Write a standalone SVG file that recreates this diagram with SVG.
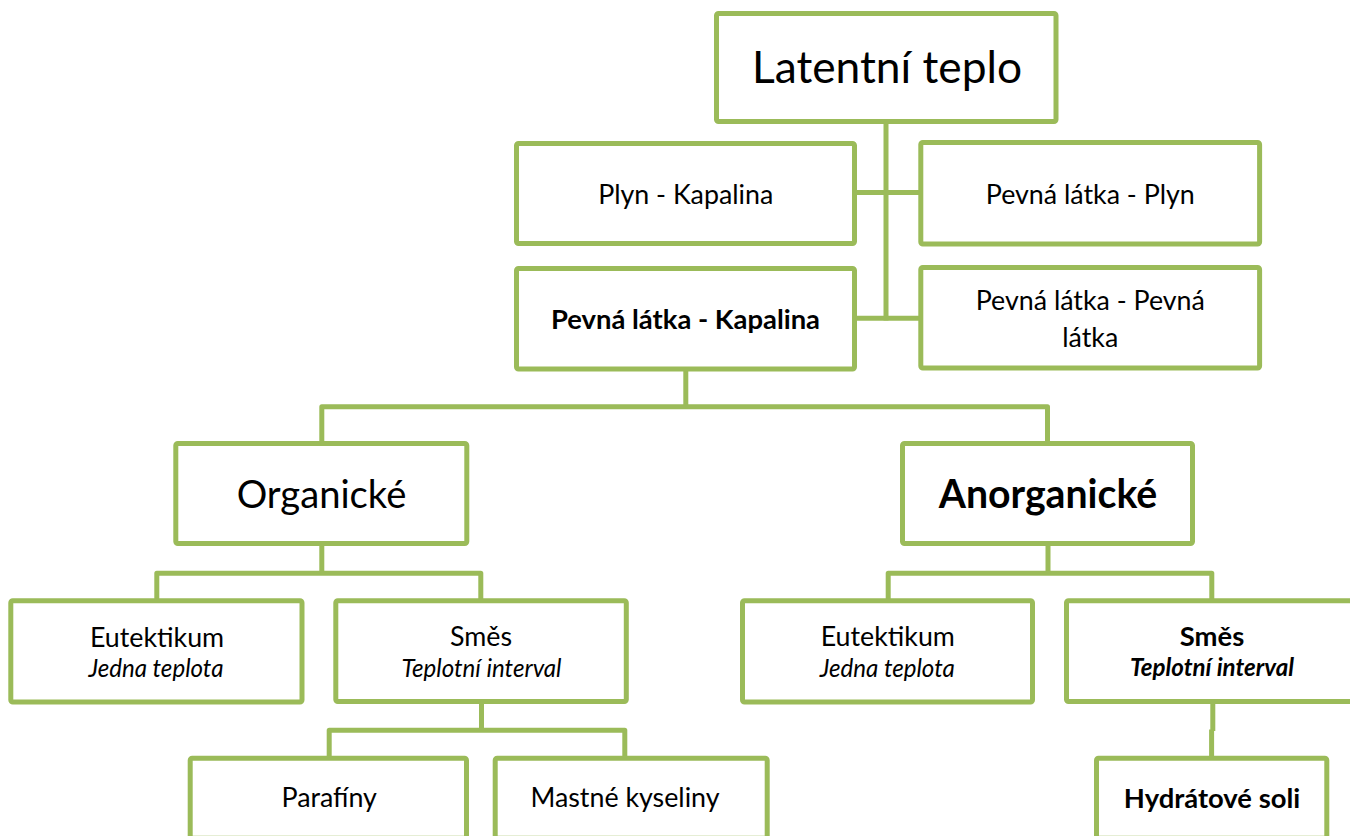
<svg xmlns="http://www.w3.org/2000/svg" width="1350" height="836" viewBox="0 0 1350 836">
  <style>
    .box { fill: #ffffff; stroke: #9BBB59; stroke-width: 5; stroke-linejoin: round; }
    .wire { fill: none; stroke: #9BBB59; stroke-width: 5; stroke-linejoin: round; stroke-linecap: butt; }
    text { font-family: Lato, "Open Sans", "Liberation Sans", sans-serif; fill: #000000; text-anchor: middle; }
    .t22 { font-size: 26.8px; }
    .t22.b { font-size: 27.4px; }
    .t22.i { font-size: 24.1px; }
    .t36 { font-size: 44.3px; }
    .t32 { font-size: 38.2px; }
    .t32.b { font-size: 39.2px; }
    .b { font-weight: bold; }
    .i { font-style: italic; }
  </style>

  <rect width="1350" height="836" fill="#ffffff"/>

  <!-- connectors -->
  <g id="connectors">
    <path class="wire" d="M886,121.5 V320.5"/>
    <path class="wire" d="M854.5,192.5 H920.8"/>
    <path class="wire" d="M854.5,318.2 H920.8"/>
    <path class="wire" d="M685.8,369 V406.8 M321.8,443.5 V406.8 H1047.5 V443.5"/>
    <path class="wire" d="M321.8,543.5 V573.2 M156.8,600.8 V573.2 H480.8 V600.8"/>
    <path class="wire" d="M1048,543.5 V573.2 M888.2,600.8 V573.2 H1211.8 V600.8"/>
    <path class="wire" d="M481.5,701.5 V730.2 M329.2,758.2 V730.2 H624.8 V758.2"/>
    <path class="wire" d="M1212.8,701.5 V731 M1211.6,729.5 V758.2"/>
  </g>

  <!-- nodes -->
  <g id="latentni-teplo">
    <rect class="box" x="716.5" y="13.5" width="339.5" height="108" rx="2"/>
    <text class="t36" x="887" y="83">Latentní teplo</text>
  </g>

  <g id="plyn-kapalina">
    <rect class="box" x="516.5" y="143.5" width="338" height="100" rx="2"/>
    <text class="t22" x="685.7" y="204">Plyn - Kapalina</text>
  </g>

  <g id="pevna-plyn">
    <rect class="box" x="920.8" y="142.5" width="338.8" height="101.5" rx="2"/>
    <text class="t22" x="1090.3" y="204">Pevná látka - Plyn</text>
  </g>

  <g id="pevna-kapalina">
    <rect class="box" x="516.5" y="268.5" width="338" height="100.5" rx="2"/>
    <text class="t22 b" x="685.5" y="329.3">Pevná látka - Kapalina</text>
  </g>

  <g id="pevna-pevna">
    <rect class="box" x="920.8" y="267.5" width="338.8" height="100.5" rx="2"/>
    <text class="t22" x="1090.3" y="310">Pevná látka - Pevná</text>
    <text class="t22" x="1090.3" y="346.7">látka</text>
  </g>

  <g id="organicke">
    <rect class="box" x="175.8" y="443.5" width="291" height="100" rx="2"/>
    <text class="t32" x="321.5" y="507.7">Organické</text>
  </g>

  <g id="anorganicke">
    <rect class="box" x="902.5" y="443.5" width="290" height="100" rx="2"/>
    <text class="t32 b" x="1048" y="507.7">Anorganické</text>
  </g>

  <g id="eutektikum-org">
    <rect class="box" x="10.8" y="600.8" width="291.2" height="101.2" rx="2"/>
    <text class="t22" x="157" y="646.7">Eutektikum</text>
    <text class="t22 i" x="156" y="676.7">Jedna teplota</text>
  </g>

  <g id="smes-org">
    <rect class="box" x="335.8" y="600.8" width="290.5" height="100.7" rx="2"/>
    <text class="t22" x="481" y="646.3">Směs</text>
    <text class="t22 i" x="481.5" y="676.7">Teplotní interval</text>
  </g>

  <g id="eutektikum-anorg">
    <rect class="box" x="742.5" y="600.8" width="290" height="101.2" rx="2"/>
    <text class="t22" x="887.8" y="646.3">Eutektikum</text>
    <text class="t22 i" x="887.3" y="676.7">Jedna teplota</text>
  </g>

  <g id="smes-anorg">
    <rect class="box" x="1066.5" y="600.8" width="291" height="100.7" rx="2"/>
    <text class="t22 b" x="1212" y="646">Směs</text>
    <text class="t22 b i" x="1212" y="676">Teplotní interval</text>
  </g>

  <g id="parafiny">
    <rect class="box" x="190.2" y="758.2" width="276.3" height="80" rx="2"/>
    <text class="t22" x="329.2" y="807.3">Parafíny</text>
  </g>

  <g id="mastne-kyseliny">
    <rect class="box" x="495.2" y="758.2" width="272" height="80" rx="2"/>
    <text class="t22" x="625" y="807.3">Mastné kyseliny</text>
  </g>

  <g id="hydratove-soli">
    <rect class="box" x="1096.5" y="758.2" width="230.3" height="80" rx="2"/>
    <text class="t22 b" x="1212" y="807.7">Hydrátové soli</text>
  </g>
</svg>
